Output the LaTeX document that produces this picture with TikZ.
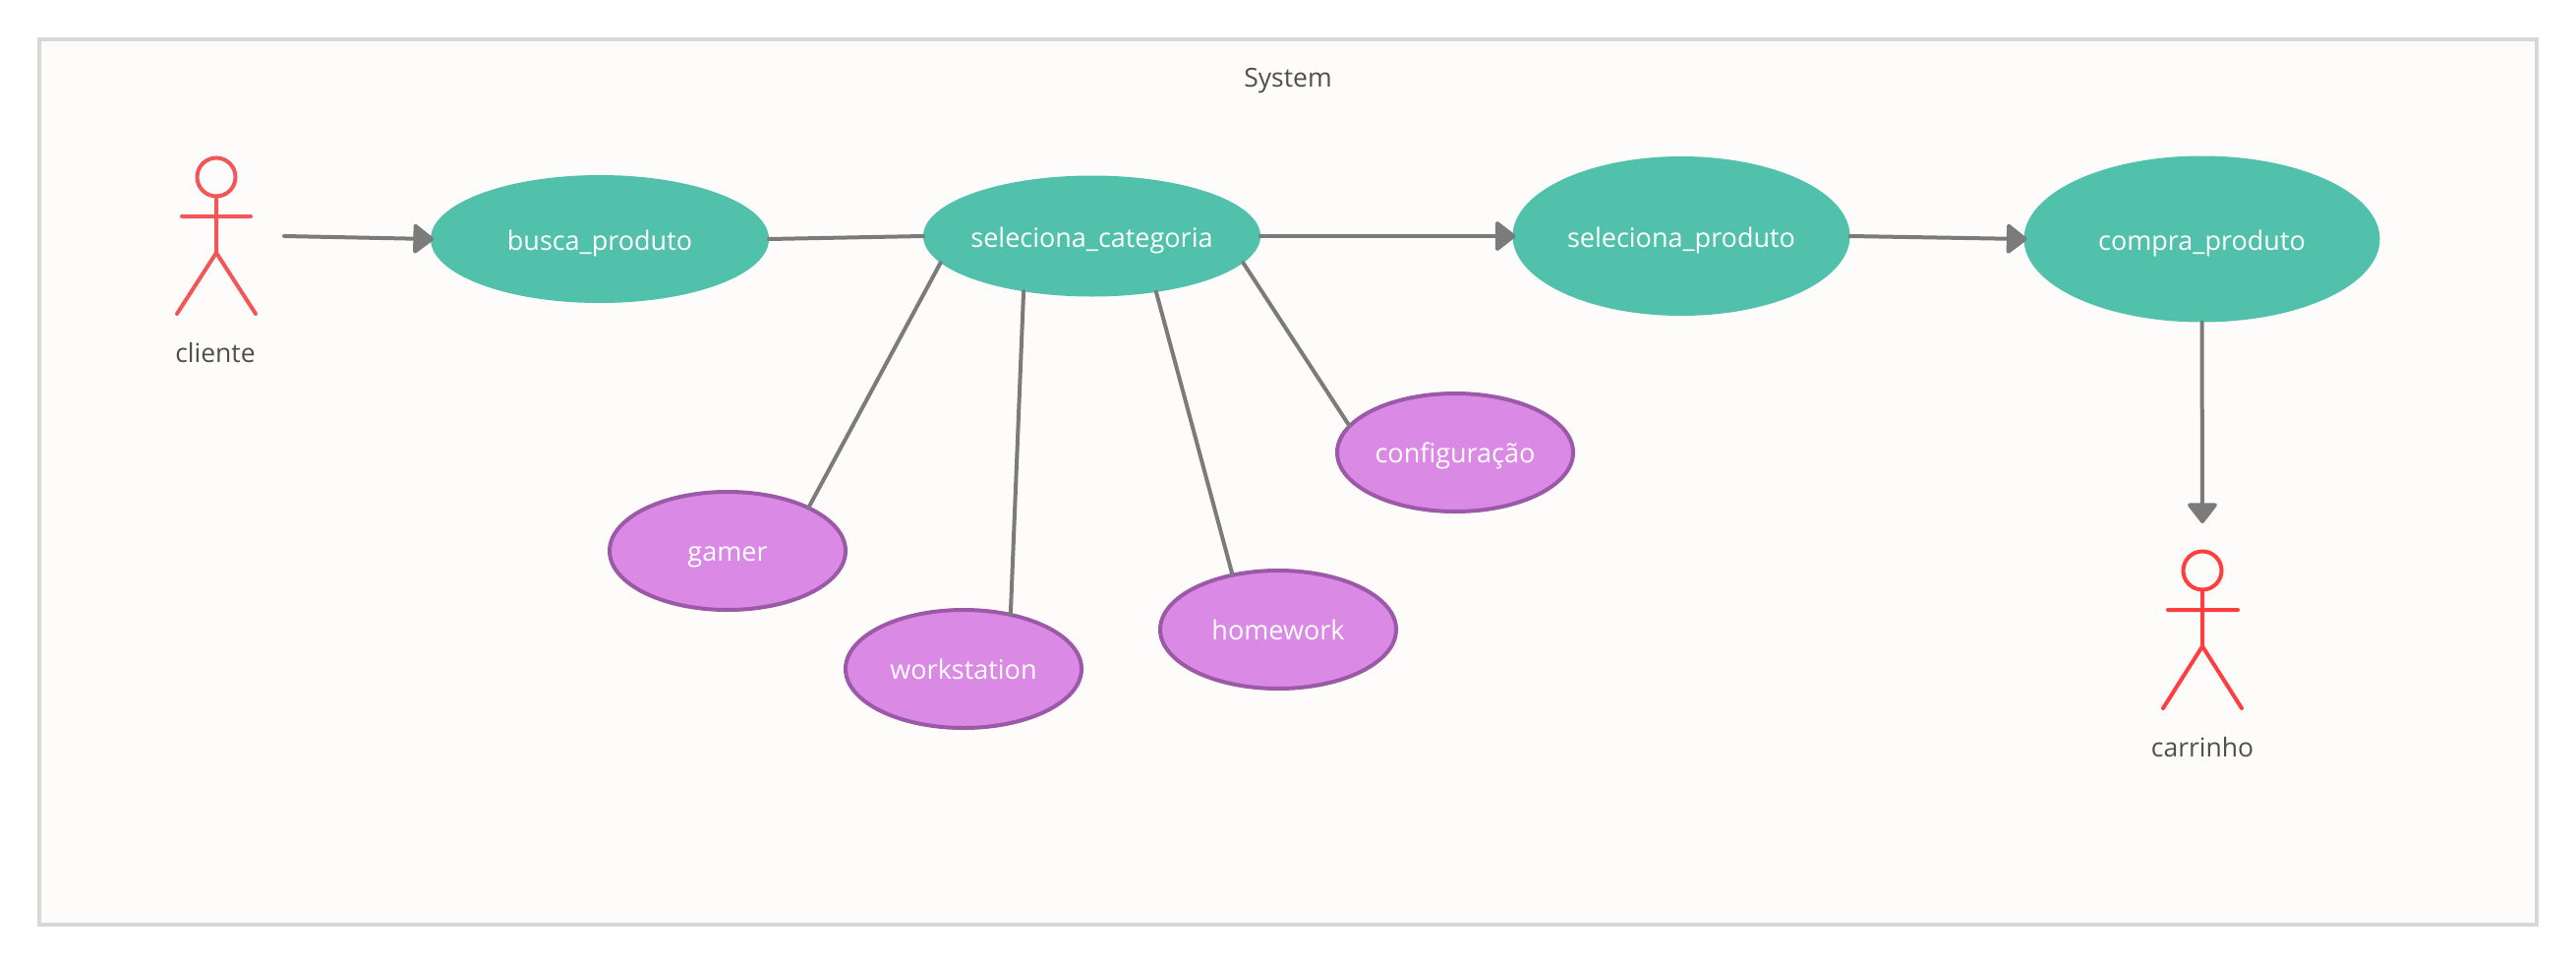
\documentclass[tikz,border=0pt]{standalone}
\usepackage{fontspec}
\setmainfont{Open Sans}
\usetikzlibrary{shapes.geometric,arrows.meta}
\definecolor{teal}{HTML}{51C1AC}
\definecolor{purplefill}{HTML}{DA89E4}
\definecolor{purpleline}{HTML}{9B59A8}
\definecolor{frameline}{HTML}{D8D8D8}
\definecolor{framefill}{HTML}{FDFCFA}
\definecolor{linkgray}{HTML}{7B7B7B}
\definecolor{redA}{HTML}{F25757}
\definecolor{redB}{HTML}{FF3F3F}
\definecolor{labelgray}{HTML}{4F4F4F}
\tikzset{
  x=1pt,y=-1pt,
  usecase/.style={ellipse,fill=teal,text=white,inner xsep=-20pt,inner ysep=0pt,outer sep=0pt,text height=22pt,text depth=0pt,font=\fontsize{27}{30}\selectfont},
  category/.style={ellipse,draw=purpleline,fill=purplefill,line width=4pt,text=white,inner sep=0pt,outer sep=0pt,minimum width=240pt,minimum height=120pt,text height=21pt,text depth=0pt,font=\fontsize{27}{30}\selectfont},
  caption/.style={text=labelgray,inner sep=0pt,text height=20pt,text depth=0pt,font=\fontsize{26.5}{30}\selectfont},
  link/.style={draw=linkgray,line width=4pt,line cap=round},
  arrowlink/.style={link,-{Triangle[length=22pt,width=33pt,round]},shorten >=-3pt},
  limb/.style={line width=4pt,line cap=round},
  headA/.style={circle,draw=redA,line width=4pt,minimum size=39pt,inner sep=0pt,outer sep=0pt},
  headB/.style={circle,draw=redB,line width=4pt,minimum size=39pt,inner sep=0pt,outer sep=0pt},
}
\begin{document}
\begin{tikzpicture}
\useasboundingbox (0,0) rectangle (2620,980);
\node[draw=frameline,fill=framefill,line width=4pt,minimum width=2540pt,minimum height=900pt,inner sep=0pt,outer sep=0pt,anchor=north west] (frame) at (40,40) {};
\node[caption] (systemlabel) at (1310,78) {System};

\node[usecase,minimum width=344pt,minimum height=130pt] (busca) at (610,243) {busca\_produto};
\node[usecase,minimum width=343pt,minimum height=123pt] (cat) at (1110.5,240) {seleciona\_categoria};
\node[usecase,minimum width=343pt,minimum height=162pt] (prod) at (1710,240) {seleciona\_produto};
\node[usecase,minimum width=362pt,minimum height=169pt] (compra) at (2239.5,243) {compra\_produto};

\node[category] (gamer) at (740,560) {gamer};
\node[category] (work) at (980,680) {workstation};
\node[category] (home) at (1300,640) {homework};
\node[category] (config) at (1480,460) {configuração};

% actor cliente
\node[headA] (h1) at (220,180) {};
\coordinate (hip1) at (220,257);
\coordinate (armL1) at (185,220);
\coordinate (armR1) at (255,220);
\coordinate (legL1) at (180,319);
\coordinate (legR1) at (260,319);
\draw[limb,draw=redA] (h1.south) -- (hip1) (armL1) -- (armR1) (legL1) -- (hip1) -- (legR1);
\node[caption] (cliente) at (219,358) {cliente};

% actor carrinho
\node[headB] (h2) at (2240,580) {};
\coordinate (hip2) at (2240,657);
\coordinate (armL2) at (2205,620);
\coordinate (armR2) at (2276,620);
\coordinate (legL2) at (2200,720);
\coordinate (legR2) at (2280,720);
\draw[limb,draw=redB] (h2.south) -- (hip2) (armL2) -- (armR2) (legL2) -- (hip2) -- (legR2);
\node[caption] (carrinho) at (2240,759) {carrinho};

% connectors
\coordinate (fromclient) at (289,240);
\coordinate (tocart) at (2240,529);
\draw[arrowlink] (fromclient) -- (busca.west);
\draw[link] (busca.east) -- (cat.west);
\draw[arrowlink] (cat.east) -- (prod.west);
\draw[arrowlink] (prod.east) -- (compra.west);
\draw[arrowlink] (compra.south) -- (tocart);
\draw[link] (cat.190) -- (gamer.28.5);
\draw[link] (cat.219.4) -- (work.49.5);
\draw[link] (cat.319.8) -- (home.130);
\draw[link] (cat.350) -- (config.166);
\end{tikzpicture}
\end{document}
